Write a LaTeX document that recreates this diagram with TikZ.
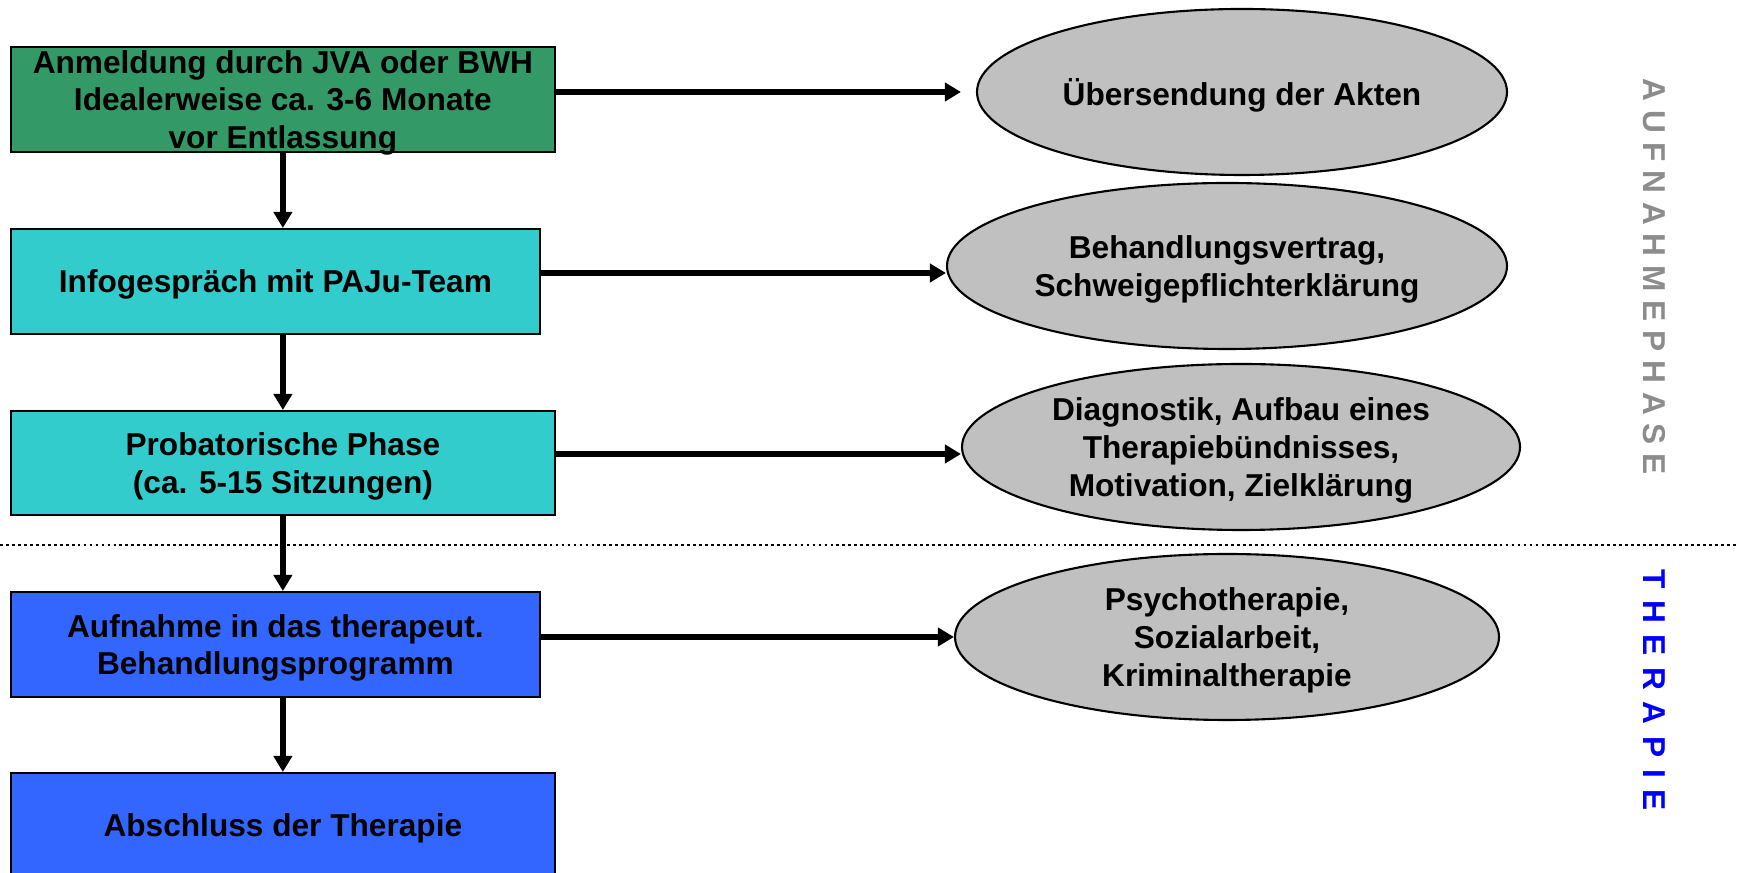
\documentclass[tikz,border=0pt]{standalone}
\usepackage{fontspec}
\setmainfont{Liberation Sans}
\usepackage{tikz}
\usetikzlibrary{arrows.meta, calc, positioning, shapes}

\definecolor{boxgreen}{HTML}{339966}
\definecolor{boxcyan}{HTML}{33CCCC}
\definecolor{boxblue}{HTML}{3366FF}
\definecolor{ellgray}{HTML}{C0C0C0}
\definecolor{phasegray}{HTML}{8C8C8C}
\definecolor{phaseblue}{HTML}{0000FF}

\begin{document}
\begin{tikzpicture}[
    font=\fontsize{9}{10.7}\selectfont\bfseries,
    stepbox/.style={draw=black, line width=0.5pt, rectangle, align=center, inner sep=0pt,
        text depth=0pt, minimum height=10.5mm, anchor=north west},
    infoell/.style={draw=black, line width=0.6pt, ellipse, fill=ellgray, align=center,
        inner sep=0pt, text depth=0pt, minimum height=16.6mm},
    arr/.style={line width=1.7pt, -{Triangle[length=1.6mm, width=1.8mm]}},
    phase/.style={rotate=-90, font=\fontsize{9}{10.7}\selectfont\bfseries\addfontfeature{LetterSpace=28}},
]
    \clip (0,0) rectangle (17.38,-8.73);
    % Steps
    \node[stepbox, fill=boxgreen, minimum width=54.4mm, minimum height=10.5mm] (anmeldung) at (0.10,-0.46)
        {Anmeldung durch JVA oder BWH\\Idealerweise ca. 3-6 Monate\\vor Entlassung};
    \node[stepbox, fill=boxcyan, minimum width=52.9mm] (info) at (0.10,-2.28)
        {Infogespräch mit PAJu-Team};
    \node[stepbox, fill=boxcyan, minimum width=54.4mm, minimum height=10.4mm] (probat) at (0.10,-4.10)
        {Probatorische Phase\\(ca. 5-15 Sitzungen)};
    \node[stepbox, fill=boxblue, minimum width=52.9mm] (aufnahme) at (0.10,-5.91)
        {Aufnahme in das therapeut.\\Behandlungsprogramm};
    \node[stepbox, fill=boxblue, minimum width=54.4mm] (abschluss) at (0.10,-7.72)
        {Abschluss der Therapie};
    % Ellipses
    \node[infoell, minimum width=53.0mm] (akten) at (12.42,-0.92) {Übersendung der Akten};
    \node[infoell, minimum width=56.0mm] (vertrag) at (12.27,-2.66)
        {Behandlungsvertrag,\\Schweigepflichterklärung};
    \node[infoell, minimum width=55.8mm] (diagnostik) at (12.41,-4.47)
        {Diagnostik, Aufbau eines\\Therapiebündnisses,\\Motivation, Zielklärung};
    \node[infoell, minimum width=54.4mm] (psycho) at (12.27,-6.37)
        {Psychotherapie,\\Sozialarbeit,\\Kriminaltherapie};
    % Arrows
    \draw[arr] (anmeldung.south) -- (anmeldung.south |- info.north);
    \draw[arr] (probat.north |- info.south) -- (probat.north);
    \draw[arr] (probat.south) -- (probat.south |- aufnahme.north);
    \draw[arr] (abschluss.north |- aufnahme.south) -- (abschluss.north);
    \draw[arr, shorten >=1.5mm] (anmeldung.east |- akten) -- (akten.west);
    \draw[arr] ([yshift=-0.7mm]info.east |- vertrag) -- ([yshift=-0.7mm]vertrag.west);
    \draw[arr] ([yshift=-0.7mm]probat.east |- diagnostik) -- ([yshift=-0.7mm]diagnostik.west);
    \draw[arr] (aufnahme.east |- psycho) -- (psycho.west);
    % Separator
    \coordinate (sepL) at (0,-5.45);
    \coordinate (sepR) at (17.38,-5.45);
    \draw[line width=0.8pt, dash pattern=on 0.8pt off 0.9pt] (sepL) -- (sepR);
    % Phase labels
    \node[phase, text=phasegray] (aufnahmephase) at (16.54,-2.77) {AUFNAHMEPHASE};
    \node[phase, text=phaseblue, font=\fontsize{9}{10.7}\selectfont\bfseries\addfontfeature{LetterSpace=37}] (therapiephase) at (16.54,-6.90) {THERAPIE};
\end{tikzpicture}
\end{document}
